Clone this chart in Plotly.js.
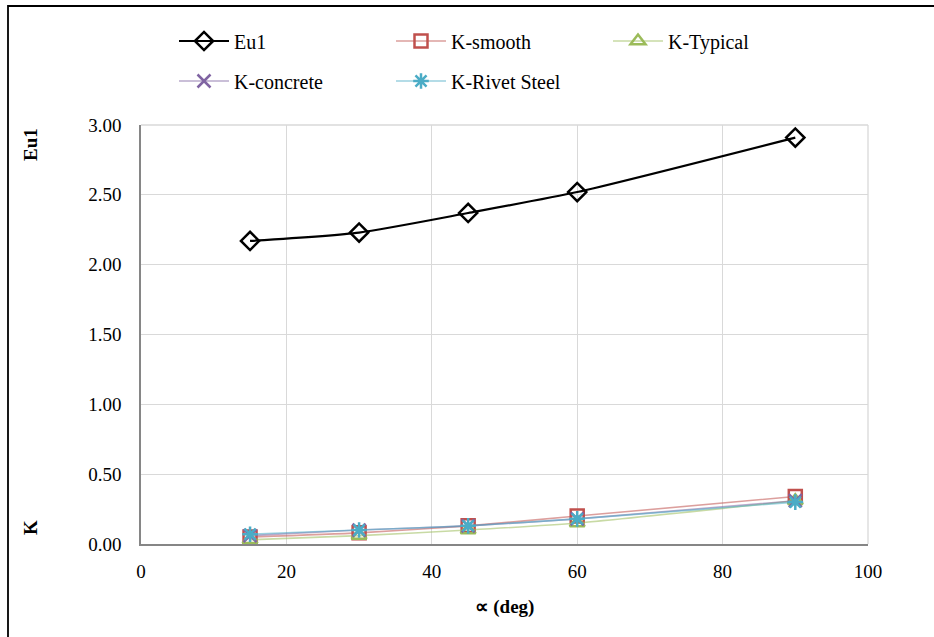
<!DOCTYPE html>
<html>
<head>
<meta charset="utf-8">
<script src="https://cdn.plot.ly/plotly-3.0.1.min.js"></script>
<style>
html,body{margin:0;padding:0;background:#fff;}
#chart{width:934px;height:637px;}
</style>
</head>
<body>
<div id="chart"></div>
<script>
const angles = [15, 30, 45, 60, 90];
const eu1 = [2.17, 2.23, 2.37, 2.52, 2.91];
const kSmooth = [0.05, 0.08, 0.13, 0.20, 0.34];
const kTypical = [0.03, 0.06, 0.10, 0.15, 0.31];
const kConcrete = [0.06, 0.10, 0.13, 0.18, 0.31];
const kRivet = [0.07, 0.10, 0.13, 0.18, 0.30];

const FONT = "Liberation Serif";

function tr(name, y, color, lineColor, symbol, legend, lw, size) {
  return {
    x: angles, y: y, name: name, type: 'scatter', mode: 'lines+markers',
    line: {color: lineColor, width: lw, shape: 'spline', smoothing: 0.6},
    marker: {symbol: symbol, size: size, color: color, line: {color: color, width: 2.5}},
    legend: legend
  };
}

const data = [
  tr('Eu1', eu1, '#000000', '#000000', 'diamond-open', 'legend', 2.2, 14),
  tr('K-smooth', kSmooth, '#c0504d', 'rgba(192,80,77,0.55)', 'square-open', 'legend', 1.6, 13),
  tr('K-Typical', kTypical, '#9bbb59', 'rgba(155,187,89,0.55)', 'triangle-up-open', 'legend', 1.6, 13),
  tr('K-concrete', kConcrete, '#8064a2', 'rgba(128,100,162,0.55)', 'x-thin-open', 'legend2', 1.6, 13),
  tr('K-Rivet Steel', kRivet, '#4bacc6', 'rgba(75,172,198,0.55)', 'asterisk-open', 'legend2', 1.6, 13)
];

function legendCfg(y) {
  return {
    orientation: 'h', xref: 'paper', yref: 'paper', xanchor: 'left', yanchor: 'middle',
    x: (174 - 141) / 727, y: y,
    font: {family: FONT, size: 20, color: '#000'}, entrywidth: 152, entrywidthmode: 'pixels',
    bgcolor: 'rgba(0,0,0,0)', itemwidth: 50
  };
}

const layout = {
  width: 934, height: 637,
  margin: {l: 141, r: 66, t: 125, b: 93},
  paper_bgcolor: '#fff', plot_bgcolor: '#fff',
  font: {family: FONT, size: 19, color: '#000'},
  showlegend: true,
  legend: legendCfg(1 + (125 - 41) / 419),
  legend2: legendCfg(1 + (125 - 81) / 419),
  xaxis: {
    range: [0, 100], dtick: 20, tick0: 0,
    showgrid: true, gridcolor: '#d9d9d9', gridwidth: 1.3,
    showline: true, linecolor: '#868686', linewidth: 1.6,
    zeroline: false, ticks: '', ticklen: 0, ticklabelstandoff: 10,
    tickfont: {family: FONT, size: 19, color: '#000'},
    title: {text: '<b>\u221D (deg)</b>', font: {family: FONT, size: 19, color: '#000'}, standoff: 18}
  },
  yaxis: {
    range: [0, 3], dtick: 0.5, tick0: 0, tickformat: '.2f',
    showgrid: true, gridcolor: '#d9d9d9', gridwidth: 1.3,
    showline: true, linecolor: '#868686', linewidth: 1.6,
    zeroline: false, ticks: '', ticklen: 0, ticklabelstandoff: 14,
    tickfont: {family: FONT, size: 19, color: '#000'}
  },
  annotations: [
    {text: '<b>Eu1</b>', xref: 'paper', yref: 'paper', x: (30 - 141) / 727, y: 1 + (125 - 145) / 419,
     textangle: -90, showarrow: false, font: {family: FONT, size: 19, color: '#000'}, xanchor: 'center', yanchor: 'middle'},
    {text: '<b>K</b>', xref: 'paper', yref: 'paper', x: (30 - 141) / 727, y: (544 - 528) / 419,
     textangle: -90, showarrow: false, font: {family: FONT, size: 19, color: '#000'}, xanchor: 'center', yanchor: 'middle'}
  ],
  shapes: [
    {type: 'rect', xref: 'paper', yref: 'paper',
     x0: (8 - 141) / 727, x1: (945 - 141) / 727, y0: (544 - 650) / 419, y1: 1 + (125 - 6) / 419,
     line: {color: '#000', width: 1.8}, fillcolor: 'rgba(0,0,0,0)', layer: 'below'},
    {type: 'line', xref: 'paper', yref: 'paper', x0: 0, x1: 1, y0: 1, y1: 1, line: {color: '#d9d9d9', width: 1.3}},
    {type: 'line', xref: 'paper', yref: 'paper', x0: 1, x1: 1, y0: 0, y1: 1, line: {color: '#d9d9d9', width: 1.3}}
  ]
};

Plotly.newPlot('chart', data, layout, {displayModeBar: false, staticPlot: true});
</script>
</body>
</html>
